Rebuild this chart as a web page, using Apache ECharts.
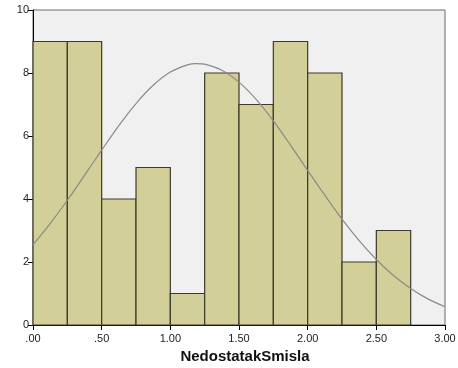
<!DOCTYPE html>
<html>
<head>
<meta charset="utf-8">
<script src="https://cdn.jsdelivr.net/npm/echarts@6/dist/echarts.min.js"></script>
<style>
  html, body { margin: 0; padding: 0; background: #fff; }
  #chart { width: 458px; height: 368px; }
</style>
</head>
<body>
<div id="chart"></div>
<script>
// Histogram bins (width 0.25) and their frequencies
const binStarts = [0.00, 0.25, 0.50, 0.75, 1.00, 1.25, 1.50, 1.75, 2.00, 2.25, 2.50];
const binWidth = 0.25;
const frequencies = [9, 9, 4, 5, 1, 8, 7, 9, 8, 2, 3];

// Fitted normal curve, sampled along the x axis
const curveX = [0.000, 0.125, 0.250, 0.375, 0.500, 0.625, 0.750, 0.875, 1.000, 1.125, 1.1875, 1.250, 1.375,
                1.500, 1.625, 1.750, 1.875, 2.000, 2.125, 2.250, 2.375, 2.500, 2.625, 2.750, 2.875, 3.000];
const curveY = [2.55, 3.22, 3.96, 4.75, 5.55, 6.33, 7.03, 7.61, 8.03, 8.26, 8.30, 8.28, 8.09,
                7.71, 7.16, 6.48, 5.71, 4.91, 4.12, 3.36, 2.68, 2.08, 1.57, 1.16, 0.83, 0.58];

// Axis tick labels
const xTickLabels = {'0': '.00', '0.5': '.50', '1': '1.00', '1.5': '1.50', '2': '2.00', '2.5': '2.50', '3': '3.00'};
const xAxisName = 'NedostatakSmisla';

const barData = binStarts.map((s, i) => [s, s + binWidth, frequencies[i]]);
const curveData = curveX.map((x, i) => [x, curveY[i]]);

const chart = echarts.init(document.getElementById('chart'));
chart.setOption({
  animation: false,
  textStyle: { fontFamily: 'Liberation Sans, Arial, sans-serif' },
  grid: {
    left: 33, right: 13, top: 10, bottom: 43,
    outerBoundsMode: 'none', containLabel: false,
    show: true, backgroundColor: '#f0f0f0', borderColor: '#6b6b6b', borderWidth: 1
  },
  xAxis: {
    type: 'value', min: 0, max: 3, interval: 0.5,
    name: xAxisName, nameLocation: 'middle', nameGap: 24,
    nameTextStyle: { fontSize: 15, fontWeight: 'bold', color: '#111', padding: [0, 0, 0, 12] },
    axisLine: { show: true, onZero: false, lineStyle: { color: '#000', width: 1 } },
    axisTick: { show: true, length: 5, lineStyle: { color: '#000' } },
    axisLabel: { fontSize: 11, color: '#222', margin: 8,
      formatter: v => xTickLabels[String(v)] ?? '' },
    splitLine: { show: false }
  },
  yAxis: {
    type: 'value', min: 0, max: 10, interval: 2,
    axisLine: { show: true, lineStyle: { color: '#000', width: 1 } },
    axisTick: { show: true, length: 5, lineStyle: { color: '#000' } },
    axisLabel: { fontSize: 11, color: '#222', margin: 4 },
    splitLine: { show: false }
  },
  series: [
    {
      type: 'custom',
      data: barData,
      encode: { x: [0, 1], y: 2 },
      renderItem: function (params, api) {
        const p0 = api.coord([api.value(0), api.value(2)]);
        const p1 = api.coord([api.value(1), 0]);
        return {
          type: 'rect',
          shape: { x: p0[0], y: p0[1], width: p1[0] - p0[0], height: p1[1] - p0[1] },
          style: { fill: '#d3cf98', stroke: '#3b3a2c', lineWidth: 1.2 }
        };
      },
      z: 2
    },
    {
      type: 'line',
      data: curveData,
      smooth: 0.3,
      smoothMonotone: 'none',
      showSymbol: false,
      lineStyle: { color: '#8a8a8a', width: 1.2 },
      z: 3
    }
  ]
});
</script>
</body>
</html>
